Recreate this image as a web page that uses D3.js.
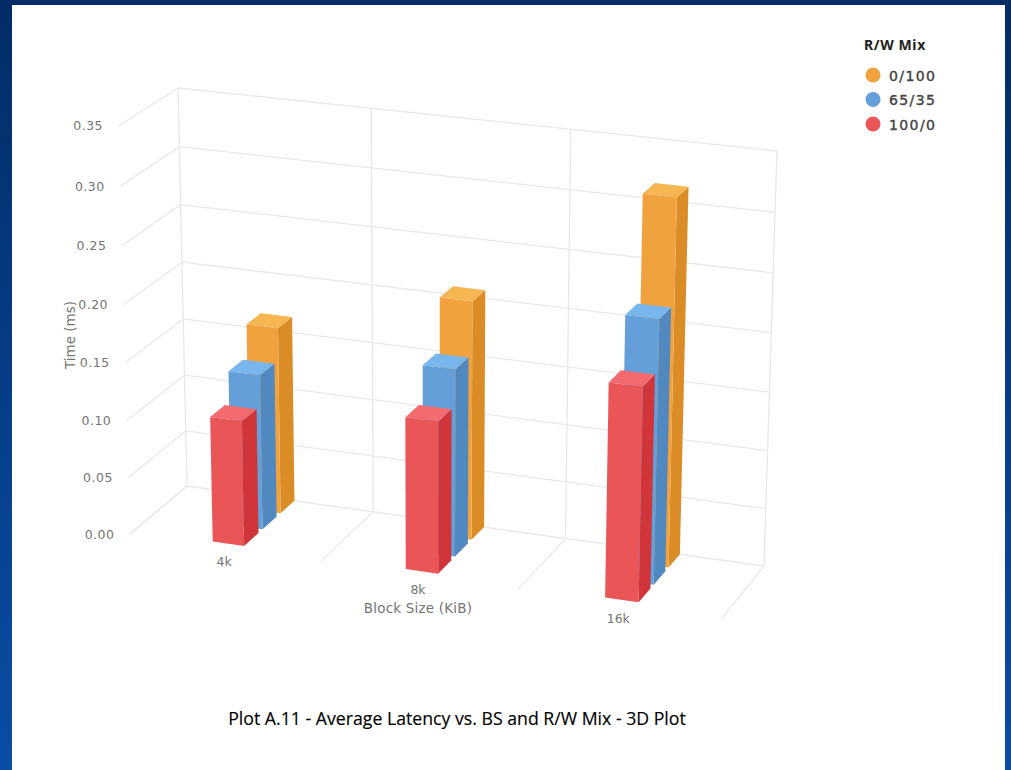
<!DOCTYPE html>
<html>
<head>
<meta charset="utf-8">
<script src="https://cdn.jsdelivr.net/npm/d3@7/dist/d3.min.js"></script>
<style>
html,body{margin:0;padding:0;background:#fff}
svg{display:block}
text{font-family:"DejaVu Sans",sans-serif}
</style>
</head>
<body>
<svg id="chart" width="1011" height="770"></svg>
<script>
// Chart values
const blockSizes = ["4k", "8k", "16k"];
const mixes = ["0/100", "65/35", "100/0"];
const latency0100 = [0.1635, 0.207, 0.313];
const latency6535 = [0.1355, 0.162, 0.225];
const latency1000 = [0.109, 0.131, 0.182];
const seriesValues = [latency0100, latency6535, latency1000];
const frontColors = ["#f0a23f", "#659fd9", "#ea5558"];
const topColors = ["#f6b652", "#79b6ee", "#f36b6e"];
const sideColors = ["#da8c27", "#5288c0", "#d03539"];

const W = 1011, H = 770;
const svg = d3.select("#chart");

// Page backdrop and white panel
const defs = svg.append("defs");
const bg = defs.append("linearGradient").attr("id", "bg").attr("x1", 0).attr("y1", 0).attr("x2", 0).attr("y2", 1);
bg.append("stop").attr("offset", 0).attr("stop-color", "#022c66");
bg.append("stop").attr("offset", 1).attr("stop-color", "#0a4da6");
svg.append("rect").attr("width", W).attr("height", H).attr("fill", "url(#bg)");
svg.append("rect").attr("x", 12).attr("y", 5).attr("width", 993).attr("height", H - 5).attr("fill", "#fff");

// Perspective box: corners of the plot cube on screen
const box = {
  backBL: [187, 486], backBR: [764, 566], backTR: [777, 151], backTL: [178, 88],
  frontBL: [130, 534], frontBR: [723, 621]
};

// Projective weights for a unit square mapped onto a screen quadrilateral
function quadWeights(p0, p1, p2, p3) {
  const dx1 = p1[0] - p2[0], dx2 = p3[0] - p2[0], sx = p0[0] - p1[0] + p2[0] - p3[0];
  const dy1 = p1[1] - p2[1], dy2 = p3[1] - p2[1], sy = p0[1] - p1[1] + p2[1] - p3[1];
  const den = dx1 * dy2 - dx2 * dy1;
  return [(sx * dy2 - dx2 * sy) / den, (dx1 * sy - sx * dy1) / den];
}
const [wu, wv] = quadWeights(box.backBL, box.backBR, box.backTR, box.backTL);
const wd = -0.028;

// u: along categories, v: up the value axis, d: from back wall to front
function project(u, v, d) {
  const o = box.backBL, a = box.backBR, b = box.backTL, c = box.frontBL;
  const w = 1 + wu * u + wv * v + wd * d;
  const f = i => (o[i]
    + (a[i] * (1 + wu) - o[i]) * u
    + (b[i] * (1 + wv) - o[i]) * v
    + (c[i] * (1 + wd) - o[i]) * d) / w;
  return [f(0), f(1)];
}

// Scales into the unit cube
const yScale = d3.scaleLinear().domain([0, 0.35]).range([0, 1]);
const xGrid = d3.scalePoint().domain(d3.range(blockSizes.length + 1)).range([0, 1]);
const xScale = d3.scaleBand().domain(blockSizes).range([-0.001, 0.999]).paddingInner(0.835).paddingOuter(0.4175);
const zScale = d3.scaleBand().domain(mixes).range([-0.04, 0.96]).paddingInner(0.22).paddingOuter(0.11);

const poly = pts => "M" + pts.map(p => p.join(",")).join("L") + "Z";
const gridColor = "#e8e8e8";
const grid = svg.append("g").attr("fill", "none").attr("stroke", gridColor).attr("stroke-width", 1.3);
const yTicks = yScale.ticks(7);

// Back wall and side wall value lines
yTicks.forEach(t => {
  const v = yScale(t);
  grid.append("path").attr("d", d3.line()([project(0, v, 1), project(0, v, 0), project(1, v, 0)]));
});
// Back wall verticals and floor lines at category boundaries
xGrid.domain().forEach(i => {
  const u = xGrid(i);
  grid.append("path").attr("d", d3.line()([project(u, 1, 0), project(u, 0, 0), project(u, 0, 1)]));
});

// Value labels beside the side wall
const fmt = d3.format(".2f");
svg.append("g").selectAll("text").data(yTicks).join("text")
  .attr("x", t => project(0, yScale(t), 1)[0] - 15.5)
  .attr("y", t => project(0, yScale(t), 1)[1] + 4.5)
  .attr("text-anchor", "end").attr("fill", "#757575")
  .attr("font-size", 12.5).attr("letter-spacing", 0.5)
  .text(fmt);

// Columns, back row first
const bars = svg.append("g");
mixes.forEach((mix, s) => {
  blockSizes.forEach((cat, c) => {
    const val = seriesValues[s][c];
    const x0 = xScale(cat), x1 = x0 + xScale.bandwidth();
    const z0 = zScale(mix), z1 = z0 + zScale.bandwidth();
    const v = yScale(val);
    bars.append("path").attr("fill", sideColors[s]).attr("d", poly([project(x1, 0, z1), project(x1, 0, z0), project(x1, v, z0), project(x1, v, z1)]));
    bars.append("path").attr("fill", topColors[s]).attr("d", poly([project(x0, v, z1), project(x1, v, z1), project(x1, v, z0), project(x0, v, z0)]));
    bars.append("path").attr("fill", frontColors[s]).attr("d", poly([project(x0, 0, z1), project(x1, 0, z1), project(x1, v, z1), project(x0, v, z1)]));
  });
});

// Category labels below the floor
svg.append("g").selectAll("text").data(blockSizes).join("text")
  .attr("x", d => project(xScale(d) + xScale.bandwidth() / 2, 0, 1)[0])
  .attr("y", d => project(xScale(d) + xScale.bandwidth() / 2, 0, 1)[1] + 19)
  .attr("text-anchor", "middle").attr("fill", "#757575").attr("font-size", 12.5)
  .text(d => d);

// Axis titles
svg.append("text").attr("text-anchor", "middle").attr("fill", "#757575").attr("font-size", 13.5)
  .attr("transform", "translate(75,335) rotate(-90)").text("Time (ms)");
svg.append("text").attr("x", 418).attr("y", 613).attr("text-anchor", "middle").attr("fill", "#757575")
  .attr("font-size", 13.5).attr("letter-spacing", 0.2).text("Block Size (KiB)");

// Legend
svg.append("text").attr("x", 864).attr("y", 50).attr("font-size", 14).attr("font-weight", "bold")
  .style("font-family", '"Noto Sans",sans-serif').attr("letter-spacing", 0.6)
  .attr("fill", "#222").text("R/W Mix");
const legend = svg.append("g").selectAll("g").data(mixes).join("g")
  .attr("transform", (d, i) => `translate(873,${75 + i * 24.5})`);
legend.append("circle").attr("r", 7.5).attr("fill", (d, i) => frontColors[i]);
legend.append("text").attr("x", 16).attr("y", 5.5).attr("font-size", 14)
  .attr("letter-spacing", 1.4).attr("fill", "#444").attr("stroke", "#444").attr("stroke-width", 0.4).text(d => d);

// Caption
svg.append("text").attr("x", 457).attr("y", 725).attr("text-anchor", "middle")
  .style("font-family", '"Open Sans",sans-serif').attr("font-size", 17.7).attr("fill", "#000")
  .attr("stroke", "#000").attr("stroke-width", 0.15)
  .text("Plot A.11 - Average Latency vs. BS and R/W Mix - 3D Plot");
</script>
</body>
</html>
